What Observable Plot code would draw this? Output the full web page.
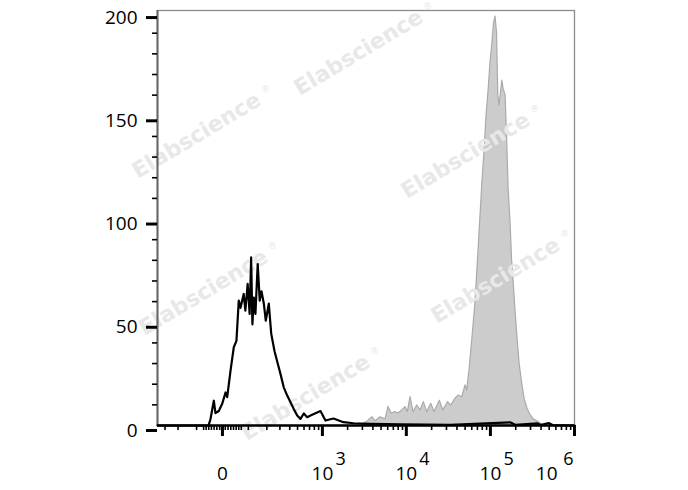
<!DOCTYPE html>
<html><head><meta charset="utf-8">
<script src="https://cdn.jsdelivr.net/npm/d3@7"></script>
<script src="https://cdn.jsdelivr.net/npm/@observablehq/plot@0.6"></script>
<style>body{margin:0;background:#fff} #wrap{width:688px;height:490px}</style>
</head><body><div id="wrap"></div>
<script>
// ---- data (fluorescence intensity, event count) ----
const blackX = [-374, -51, -43.5, -31, -25, -13, -1, 11, 17, 29, 41, 51, 60, 67, 80, 87, 97, 106, 113, 119, 126, 134, 146, 157, 167, 181, 193, 213, 230, 255, 281, 305, 336, 372, 409, 449, 495, 543, 596, 655, 719, 948, 1088, 1357, 1787, 2352, 3748, 8528, 33560, 173700, 199200, 364200, 395300, 492300, 549300, 1000000];
const blackY = [0, 0, 3, 12, 6, 7, 10.5, 16, 13.7, 26.6, 37.9, 41, 60.5, 57, 63.7, 55.6, 68.6, 54, 81.4, 49, 62, 54, 78.2, 60.5, 65, 59, 50.8, 59, 44.5, 36, 30, 25, 18.5, 14.5, 11.3, 8, 4.8, 3.2, 5.8, 4, 4.8, 7, 2.4, 3.4, 1.6, 1.1, 0.8, 0.5, 0.3, 1.5, 0.3, 1, 0.2, 1.2, 0.2, 0];

const greyX = [2848, 3179, 3451, 3959, 4298, 4930, 5654, 6137, 6664, 7435, 8073, 8934, 9779, 10416, 11215, 12176, 13470, 14745, 16142, 17717, 19773, 21636, 25025, 27468, 31152, 34205, 38484, 42122, 46232, 50605, 53016, 56465, 61300, 66550, 72250, 76320, 80620, 85160, 89960, 95020, 100380, 106030, 110480, 115110, 119940, 123950, 128440, 138300, 143300, 151400, 157700, 164400, 173700, 181000, 190100, 199200, 210400, 222300, 239300, 254800, 276700, 300300, 326100, 361000, 395300, 453400];
const greyY = [0, 1, 2, 4, 2, 4, 3, 9, 5.8, 6.5, 5.8, 7.3, 8.9, 6.5, 13.7, 6.5, 9.7, 7.3, 11.3, 6.5, 10.5, 6.5, 12, 7.3, 11.3, 9.7, 13, 14.5, 13.7, 19.4, 17, 27, 43, 60, 85, 102, 119, 133, 150, 162, 176, 186, 195, 198, 190, 160, 155, 167, 163, 160, 140, 115, 98, 80, 68, 55, 42, 30, 20, 13, 8, 5, 3, 2, 1, 0];

const yMajor = [0, 50, 100, 150, 200];
const yMinor = [10, 20, 30, 40, 60, 70, 80, 90, 110, 120, 130, 140, 160, 170, 180, 190];
const xTickValues = [0, 1e3, 1e4, 1e5, 1e6];
const xTickBase = ["0", "10", "10", "10", "10"];
const xTickExp = ["", "3", "4", "5", "6"];
const xMajor = [0, 1e3, 1e4, 1e5, 1e6];
const xMinor = [-300, -200, -100, -70, -60, -50, -40, -30, -20, -10, 10, 20, 30, 40, 50, 60, 70,
  100, 200, 300, 400, 500, 600, 700, 800, 900,
  2000, 3000, 4000, 5000, 6000, 7000, 8000, 9000,
  2e4, 3e4, 4e4, 5e4, 6e4, 7e4, 8e4, 9e4,
  2e5, 3e5, 4e5, 5e5, 6e5, 7e5, 8e5, 9e5];
const xMin = -374, xMax = 1e6;
const watermark = "Elabscience";

// biexponential-like display transform (arcsinh)
const T = v => Math.asinh(v / 130);

const black = blackX.map((x, i) => ({x, y: blackY[i]}));
const grey = greyX.map((x, i) => ({x, y: greyY[i]}));
const xLab = xTickValues.map((v, i) => ({v, base: xTickBase[i], exp: xTickExp[i]}));
const inner = xLab.slice(0, -1), last = xLab.slice(-1);

const wmColor = "#e8e8e8";
function wm(dx, dy) {
  return [
    Plot.text([watermark], {frameAnchor: "top-left", textAnchor: "middle", lineAnchor: "middle", dx, dy, rotate: -31, fontSize: 22, fontWeight: "bold", fill: wmColor, fontFamily: "DejaVu Sans"}),
    Plot.text(["®"], {frameAnchor: "top-left", textAnchor: "middle", lineAnchor: "middle", dx: dx + 69, dy: dy - 46, fontSize: 9, fill: wmColor, fontFamily: "DejaVu Sans"})
  ];
}

const lab = {frameAnchor: "bottom", lineAnchor: "middle", fill: "#000"};

const chart = Plot.plot({
  width: 688, height: 490,
  marginLeft: 157, marginRight: 114, marginTop: 10, marginBottom: 65,
  style: {fontFamily: "'Open Sans', sans-serif", background: "white", overflow: "visible", color: "#000"},
  x: {type: "linear", domain: [T(xMin), T(xMax)]},
  y: {domain: [0, 201]},
  marks: [
    Plot.areaY(grey, {x: d => T(d.x), y: "y", fill: "#cccccc", stroke: "#aaaaaa", strokeWidth: 1.2}),
    ...wm(201, 42), ...wm(39, 125), ...wm(308, 145), ...wm(46, 282), ...wm(338, 270), ...wm(148, 387),
    Plot.frame({stroke: "#8c8c8c", strokeWidth: 1.3}),
    Plot.ruleX([T(xMin)], {stroke: "#666", strokeWidth: 2}),
    Plot.lineY(black, {x: d => T(d.x), y: "y", stroke: "#000", strokeWidth: 2.2}),
    Plot.ruleY([0], {stroke: "#000", strokeWidth: 2.5}),
    Plot.axisY({ticks: yMinor, tickSize: 5, strokeWidth: 1.6, tickFormat: () => "", label: null}),
    Plot.axisY({ticks: yMajor, tickSize: 11, strokeWidth: 3, tickPadding: 9, fontSize: 19, dy: 5, label: null, fill: "#000"}),
    Plot.axisX({ticks: xMinor.map(T), tickSize: 5, strokeWidth: 1.6, tickFormat: () => "", label: null}),
    Plot.axisX({ticks: xMajor.map(T), tickSize: 11, strokeWidth: 3, tickFormat: () => "", label: null}),
    Plot.text(inner, {...lab, x: d => T(d.v), text: "base", dy: 48, fontSize: 19}),
    Plot.text(inner.filter(d => d.exp), {...lab, x: d => T(d.v), text: "exp", dy: 34, dx: 13, textAnchor: "start", fontSize: 18}),
    Plot.text(last, {...lab, x: d => T(d.v), text: "base", dy: 48, dx: -17, textAnchor: "end", fontSize: 19}),
    Plot.text(last, {...lab, x: d => T(d.v), text: "exp", dy: 34, dx: -1, textAnchor: "end", fontSize: 18})
  ]
});
document.getElementById("wrap").appendChild(chart);
</script></body></html>
